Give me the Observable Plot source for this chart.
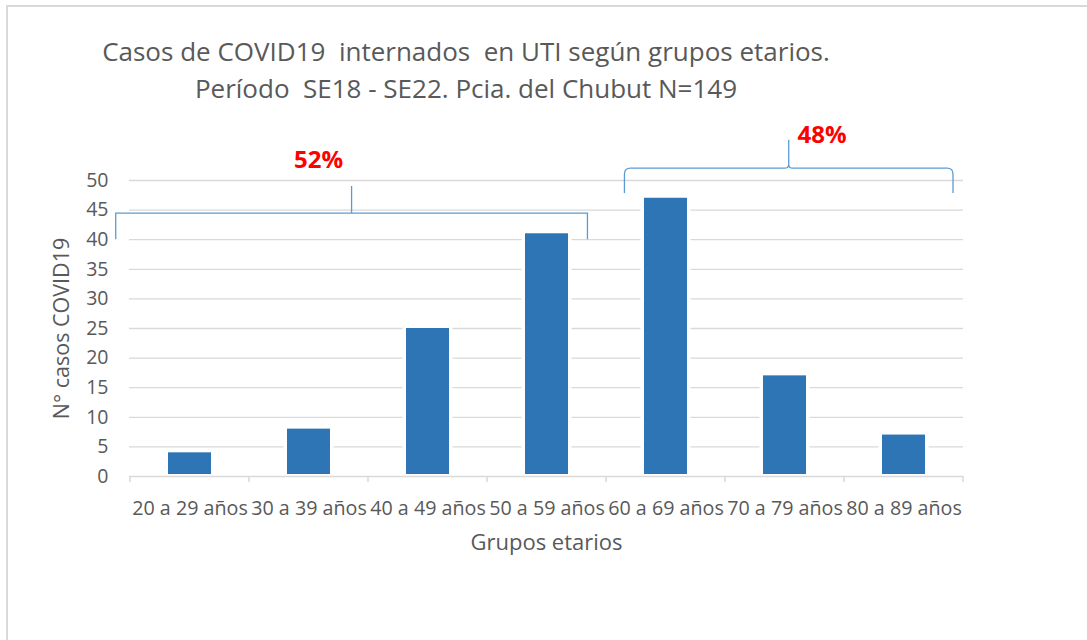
<!DOCTYPE html>
<html><head><meta charset="utf-8">
<script src="https://cdn.jsdelivr.net/npm/d3@7"></script>
<script src="https://cdn.jsdelivr.net/npm/@observablehq/plot@0.6"></script>
<style>
body{margin:0;background:#fff;}
#wrap{position:relative;width:1087px;height:640px;overflow:hidden;font-family:"Open Sans",sans-serif;color:#595959;background:#fff;}
#frame{position:absolute;left:6px;top:5px;width:1200px;height:800px;border:2px solid #d9d9d9;box-sizing:border-box;}
#title{position:absolute;left:0;width:932px;top:33px;text-align:center;font-size:26px;line-height:37px;white-space:pre;color:#595959;}
#chart{position:absolute;left:0;top:0;}
</style></head>
<body>
<div id="wrap">
  <div id="frame"></div>
  <div id="chart"></div>
  <div id="title">Casos de COVID19  internados  en UTI según grupos etarios.
Período  SE18 - SE22. Pcia. del Chubut N=149</div>
</div>
<script>
const categories = ["20 a 29 años","30 a 39 años","40 a 49 años","50 a 59 años","60 a 69 años","70 a 79 años","80 a 89 años"];
const cases = [4, 8, 25, 41, 47, 17, 7];
const yTicks = [0,5,10,15,20,25,30,35,40,45,50];
const groupLabels = ["52%", "48%"];
const groupFirst = ["20 a 29 años", "60 a 69 años"];
const groupLast = ["50 a 59 años", "80 a 89 años"];

const data = categories.map((c, i) => ({grupo: c, casos: cases[i]}));
const groups = groupLabels.map((l, i) => ({label: l, first: groupFirst[i], last: groupLast[i]}));

// annotation placement (style): offsets in band steps, levels in y units
const bracketStyle = [
  {shape: "square", left: -0.62, right: 0.344, level: 44.4, end: 40, tip: 49, textDx: -0.277, textY: 53.4},
  {shape: "curly", left: -0.345, right: 0.416, level: 52, end: 47.8, tip: 56.8, textDx: 0.28, textY: 57.6}
];

const blue = "#2e75b6", line = "#5b9bd5", grid = "#d9d9d9";

function bandInfo(x) {
  const step = x(categories[1]) - x(categories[0]);
  const bw = typeof x.bandwidth === "function" ? x.bandwidth() : (x.bandwidth ?? step * 0.36);
  return {step, bw, cx: c => x(c) + bw / 2};
}

function boundaryTicks(index, scales) {
  const {step, cx} = bandInfo(scales.x);
  const y0 = scales.y(0);
  const g = d3.create("svg:g").attr("stroke", grid).attr("stroke-width", 1.5);
  const edges = categories.map(c => cx(c) - step / 2).concat([cx(categories[categories.length - 1]) + step / 2]);
  for (const e of edges) g.append("line").attr("x1", e).attr("x2", e).attr("y1", y0).attr("y2", y0 + 6);
  return g.node();
}

function brackets(index, scales) {
  const {step, cx} = bandInfo(scales.x);
  const y = scales.y;
  const g = d3.create("svg:g");
  groups.forEach((gr, i) => {
    const s = bracketStyle[i];
    const L = cx(gr.first) + s.left * step;
    const R = cx(gr.last) + s.right * step;
    const M = (L + R) / 2;
    const yl = y(s.level), ye = y(s.end), yt = y(s.tip);
    let d;
    if (s.shape === "square") {
      d = `M${L},${ye}V${yl}H${R}V${ye}M${M},${yl}V${yt}`;
    } else {
      const r = 6, r2 = 4;
      d = `M${L},${ye}V${yl + r}Q${L},${yl} ${L + r},${yl}H${M - r2}Q${M},${yl} ${M},${yl - r2}V${yt}` +
          `M${M},${yl - r2}Q${M},${yl} ${M + r2},${yl}H${R - r}Q${R},${yl} ${R},${yl + r}V${ye}`;
    }
    g.append("path").attr("d", d).attr("fill", "none").attr("stroke", line).attr("stroke-width", 1.3);
    g.append("text").attr("x", M + s.textDx * step).attr("y", y(s.textY))
      .attr("text-anchor", "middle").attr("dy", "0.35em")
      .attr("fill", "#ff0000").attr("font-weight", "bold").attr("font-size", 24)
      .attr("font-family", "'Open Sans', sans-serif")
      .text(gr.label);
  });
  return g.node();
}

const chart = Plot.plot({
  width: 1087,
  height: 640,
  marginLeft: 129,
  marginRight: 124,
  marginTop: 180,
  marginBottom: 164,
  style: {background: "transparent", color: "#595959", fontFamily: "'Open Sans', sans-serif", overflow: "visible"},
  x: {domain: categories, paddingInner: 0.64, paddingOuter: 0.32, align: 0.5},
  y: {domain: [0, 50]},
  marks: [
    Plot.gridY(yTicks.filter(t => t > 0), {stroke: grid, strokeOpacity: 1, strokeWidth: 1.3}),
    Plot.barY(data, {x: "grupo", y: "casos", fill: "white", stroke: "white", strokeWidth: 7}),
    Plot.barY(data, {x: "grupo", y: "casos", fill: blue, insetBottom: 2}),
    Plot.ruleY([0], {stroke: grid, strokeWidth: 1.5}),
    boundaryTicks,
    Plot.axisY({ticks: yTicks, tickSize: 0, tickPadding: 21, fontSize: 19.5, label: null}),
    Plot.axisY({ticks: [], fontSize: 21.5, label: "N° casos COVID19", labelAnchor: "center", labelArrow: "none", labelOffset: 76}),
    Plot.axisX({tickSize: 0, tickPadding: 24, fontSize: 19.7, label: null}),
    Plot.axisX({ticks: [], fontSize: 22, label: "Grupos etarios", labelAnchor: "center", labelArrow: "none", labelOffset: 73}),
    brackets
  ]
});
document.getElementById("chart").appendChild(chart);
</script>
</body></html>
